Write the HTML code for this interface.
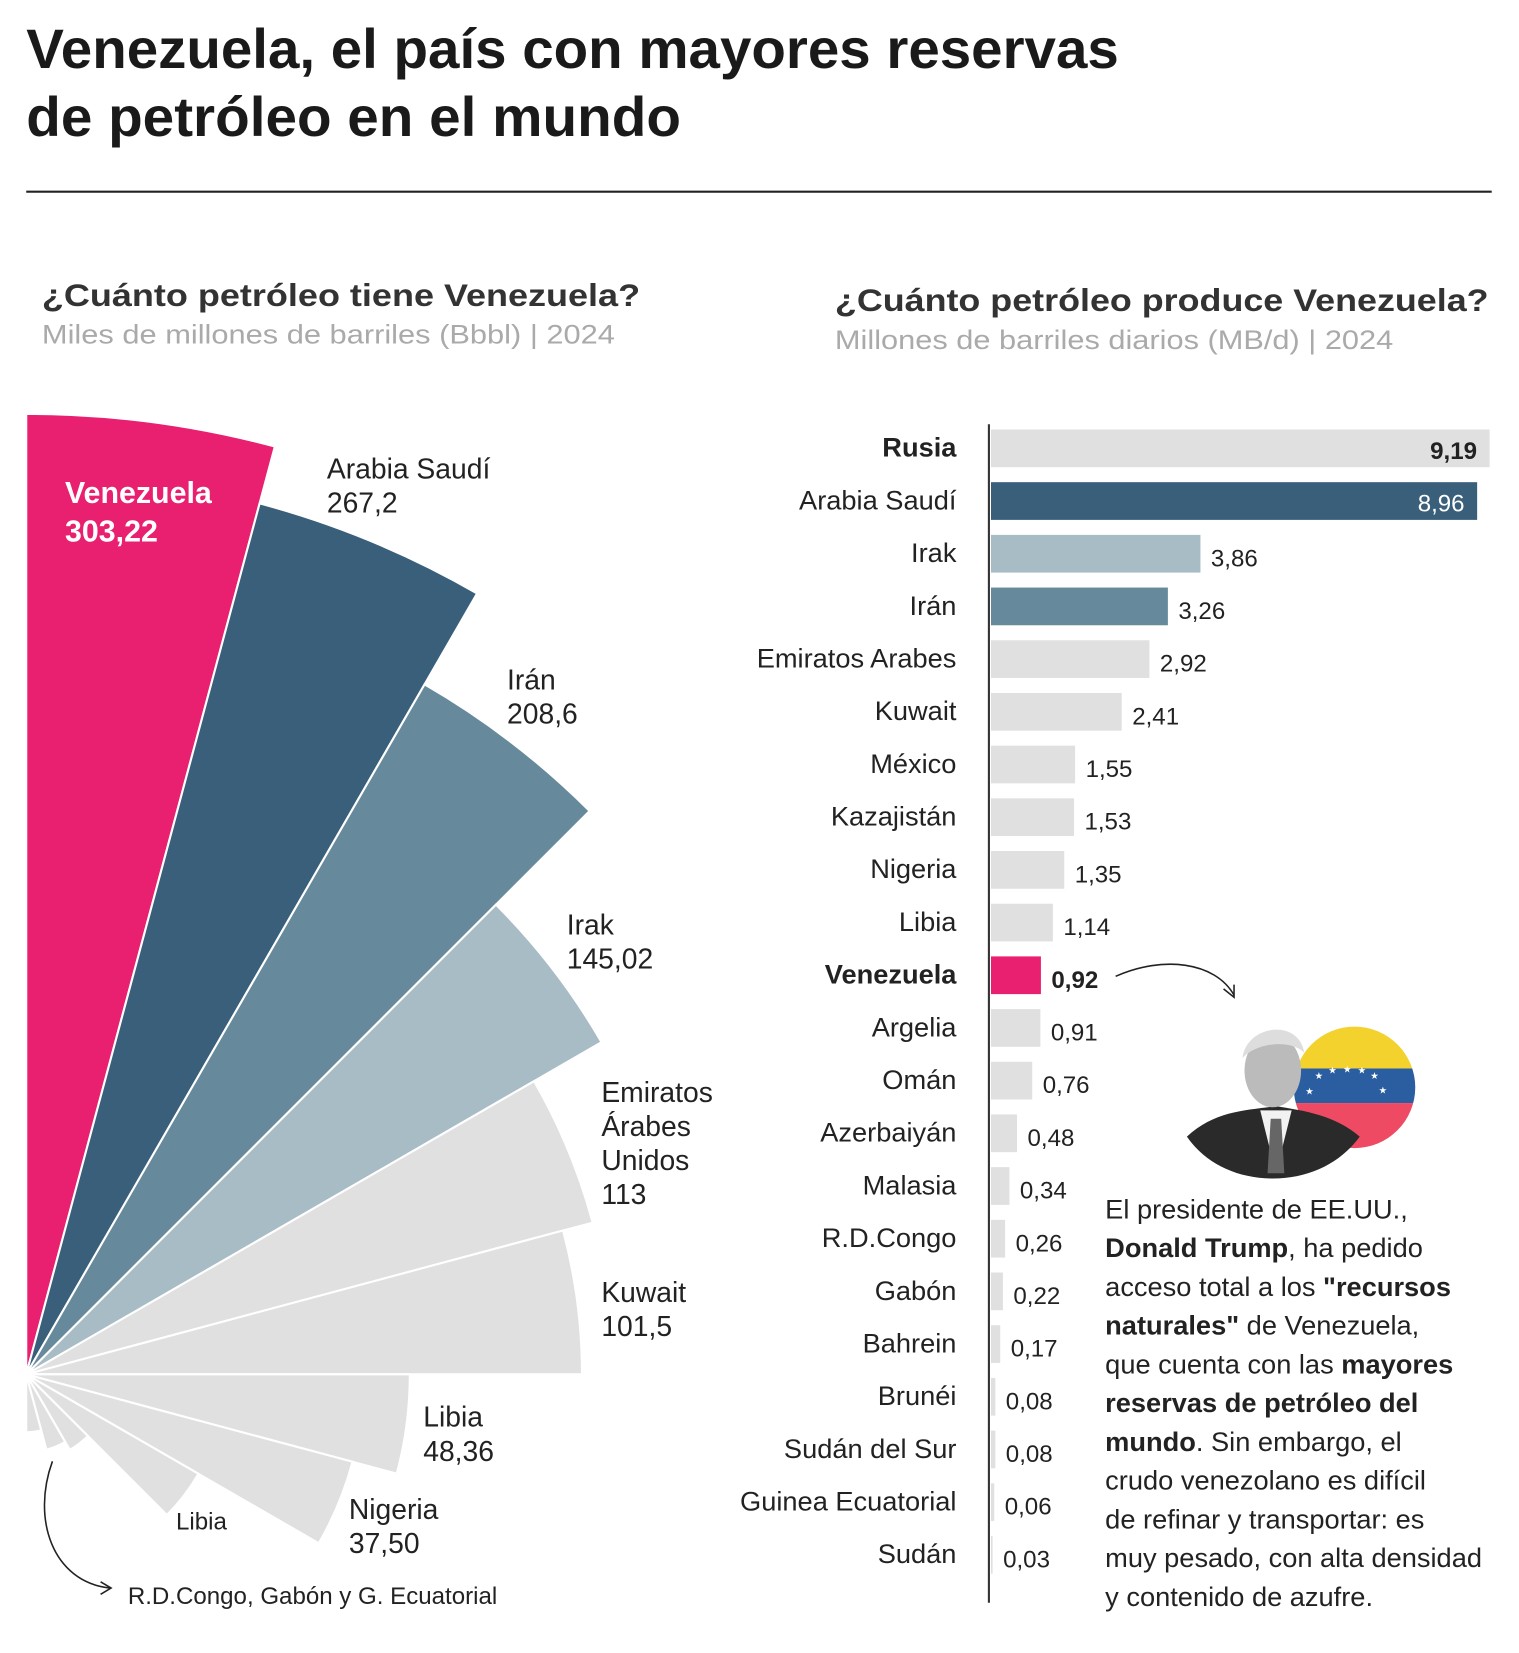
<!DOCTYPE html>
<html><head><meta charset="utf-8"><style>
html,body{margin:0;padding:0;background:#fff;}
svg{display:block;font-family:"Liberation Sans",sans-serif;}
</style></head><body>
<svg id="chart" width="1519" height="1653" viewBox="0 0 1450 1578">
<text x="25" y="65" font-size="53" font-weight="bold" fill="#1a1a1a" textLength="1043" lengthAdjust="spacingAndGlyphs">Venezuela, el país con mayores reservas</text>
<text x="25" y="130" font-size="53" font-weight="bold" fill="#1a1a1a" textLength="625" lengthAdjust="spacingAndGlyphs">de petróleo en el mundo</text>
<line x1="25" y1="183" x2="1424" y2="183" stroke="#222" stroke-width="2"/>
<text x="40" y="292" font-size="30" font-weight="bold" fill="#333" textLength="571" lengthAdjust="spacingAndGlyphs">¿Cuánto petróleo tiene Venezuela?</text>
<text x="40" y="328" font-size="26" fill="#aaa" textLength="547" lengthAdjust="spacingAndGlyphs">Miles de millones de barriles (Bbbl) | 2024</text>
<text x="797" y="297" font-size="30" font-weight="bold" fill="#333" textLength="624" lengthAdjust="spacingAndGlyphs">¿Cuánto petróleo produce Venezuela?</text>
<text x="797" y="333" font-size="26" fill="#aaa" textLength="533" lengthAdjust="spacingAndGlyphs">Millones de barriles diarios (MB/d) | 2024</text>
<g id="polar"></g>
<g id="bars"></g>
<line x1="944" y1="405" x2="944" y2="1530" stroke="#333" stroke-width="2"/>
<path d="M50,1395 C30,1450 50,1510 105,1516" fill="none" stroke="#222" stroke-width="1.5"/>
<path d="M96,1510 L106,1516 L96,1522" fill="none" stroke="#222" stroke-width="1.5"/>
<text x="122" y="1531" font-size="23" fill="#222">R.D.Congo, Gabón y G. Ecuatorial</text>
<path d="M1065,932 C1110,912 1160,918 1178,950" fill="none" stroke="#222" stroke-width="1.5"/>
<path d="M1168,944 L1178,952 L1178,940" fill="none" stroke="#222" stroke-width="1.5"/>
<g>
<clipPath id="fc"><circle cx="1293" cy="1038" r="58"/></clipPath>
<g clip-path="url(#fc)">
<rect x="1230" y="975" width="130" height="45" fill="#f3d22e"/>
<rect x="1230" y="1020" width="130" height="33" fill="#2a5ea1"/>
<rect x="1230" y="1053" width="130" height="50" fill="#ef4a64"/>
</g>
<g fill="#fff" font-size="9"><text x="1246" y="1045">★</text><text x="1255" y="1030">★</text><text x="1268" y="1025">★</text><text x="1282" y="1024">★</text><text x="1296" y="1025">★</text><text x="1308" y="1030">★</text><text x="1316" y="1044">★</text></g>
<path d="M1133,1085 C1160,1060 1190,1060 1218,1056 C1245,1060 1275,1065 1298,1085 C1280,1110 1250,1125 1215,1125 C1180,1125 1150,1110 1133,1085 Z" fill="#2a2a2a"/>
<path d="M1203,1060 L1218,1120 L1233,1060 Z" fill="#f2f2f2"/>
<path d="M1213,1068 L1223,1068 L1226,1120 L1210,1120 Z" fill="#666"/>
<ellipse cx="1215" cy="1022" rx="27" ry="35" fill="#bbb"/>
<path d="M1186,1010 C1190,978 1240,972 1245,1005 C1232,992 1200,995 1186,1010 Z" fill="#ddd"/>
</g>
<g font-size="26" fill="#222">
<text x="1055" y="1163">El presidente de EE.UU.,</text>
<text x="1055" y="1200"><tspan font-weight="bold">Donald Trump</tspan>, ha pedido</text>
<text x="1055" y="1237">acceso total a los <tspan font-weight="bold">"recursos</tspan></text>
<text x="1055" y="1274"><tspan font-weight="bold">naturales"</tspan> de Venezuela,</text>
<text x="1055" y="1311">que cuenta con las <tspan font-weight="bold">mayores</tspan></text>
<text x="1055" y="1348"><tspan font-weight="bold">reservas de petróleo del</tspan></text>
<text x="1055" y="1385"><tspan font-weight="bold">mundo</tspan>. Sin embargo, el</text>
<text x="1055" y="1422">crudo venezolano es difícil</text>
<text x="1055" y="1459">de refinar y transportar: es</text>
<text x="1055" y="1496">muy pesado, con alta densidad</text>
<text x="1055" y="1533">y contenido de azufre.</text>
</g>
</svg>
<script>
const reserveCountries = ["Venezuela","Arabia Saudí","Irán","Irak","Emiratos Árabes Unidos","Kuwait","Libia","Nigeria","Libia","R.D.Congo","Gabón","G. Ecuatorial"];
const reserveValues = [303.22,267.2,208.6,145.02,113,101.5,48.36,37.5,13,2.5,2,1.1];
const reserveColors = ["#e8206f","#3a5f7a","#668a9c","#a8bcc5","#e0e0e0","#e0e0e0","#e0e0e0","#e0e0e0","#e0e0e0","#e0e0e0","#e0e0e0","#e0e0e0"];
const prodCountries = ["Rusia","Arabia Saudí","Irak","Irán","Emiratos Arabes","Kuwait","México","Kazajistán","Nigeria","Libia","Venezuela","Argelia","Omán","Azerbaiyán","Malasia","R.D.Congo","Gabón","Bahrein","Brunéi","Sudán del Sur","Guinea Ecuatorial","Sudán"];
const prodValues = [9.19,8.96,3.86,3.26,2.92,2.41,1.55,1.53,1.35,1.14,0.92,0.91,0.76,0.48,0.34,0.26,0.22,0.17,0.08,0.08,0.06,0.03];
const prodLabels = ["9,19","8,96","3,86","3,26","2,92","2,41","1,55","1,53","1,35","1,14","0,92","0,91","0,76","0,48","0,34","0,26","0,22","0,17","0,08","0,08","0,06","0,03"];
const prodColors = ["#e0e0e0","#3a5f7a","#a8bcc5","#668a9c","#e0e0e0","#e0e0e0","#e0e0e0","#e0e0e0","#e0e0e0","#e0e0e0","#e8206f","#e0e0e0","#e0e0e0","#e0e0e0","#e0e0e0","#e0e0e0","#e0e0e0","#e0e0e0","#e0e0e0","#e0e0e0","#e0e0e0","#e0e0e0"];
const NS="http://www.w3.org/2000/svg";
const cx=25, cy=1312, rMax=917, vMax=Math.max(...reserveValues);
const rScale=v=>rMax*Math.sqrt(v/vMax);
const step=Math.PI/12;
const polar=document.getElementById('polar');
reserveValues.forEach((v,i)=>{
  const a0=i*step, a1=(i+1)*step, r=rScale(v);
  const x0=cx+r*Math.sin(a0), y0=cy-r*Math.cos(a0);
  const x1=cx+r*Math.sin(a1), y1=cy-r*Math.cos(a1);
  const p=document.createElementNS(NS,'path');
  p.setAttribute('d',`M${cx},${cy} L${x0},${y0} A${r},${r} 0 0 1 ${x1},${y1} Z`);
  p.setAttribute('fill',reserveColors[i]);
  p.setAttribute('stroke','#fff');
  p.setAttribute('stroke-width','2');
  
  
  polar.appendChild(p);
});
function addText(g,x,y,s,size,opts){
  const t=document.createElementNS(NS,'text');
  t.setAttribute('x',x);t.setAttribute('y',y);t.setAttribute('font-size',size);
  t.setAttribute('fill',opts.fill||'#222');
  if(opts.bold)t.setAttribute('font-weight','bold');
  if(opts.anchor)t.setAttribute('text-anchor',opts.anchor);
  if(opts.family)t.setAttribute('font-family',opts.family);
  t.textContent=s;g.appendChild(t);return t;
}
const fmt=v=>v.toFixed(2).replace('.',',');
let t;
t=addText(polar,62,480,"Venezuela",29,{fill:"#fff",bold:1});


t=addText(polar,62,517,fmt(reserveValues[0]),29,{fill:"#fff",bold:1});


const lbl=[[312,457,["Arabia Saudí"]],[484,658,["Irán"]],[541,892,["Irak"]],[574,1052,["Emiratos","Árabes","Unidos"]],[574,1243,["Kuwait"]],[404,1362,["Libia"]],[333,1450,["Nigeria"]]];
const vstr=["267,2","208,6","145,02","113","101,5","48,36","37,50"];
lbl.forEach((L,k)=>{
  L[2].forEach((s,j)=>{
    const e=addText(polar,L[0],L[1]+j*32.5,s,27,{});
    
    
  });
  const e=addText(polar,L[0],L[1]+L[2].length*32.5,vstr[k],27,{});
  
  
});
t=addText(polar,168,1460,"Libia",23,{});


const bars=document.getElementById('bars');
const x0=946, unit=476/9.19, y0=428, rowH=50.3, bh=36;
prodValues.forEach((v,i)=>{
  const yc=y0+i*rowH, w=v*unit;
  const r=document.createElementNS(NS,'rect');
  r.setAttribute('x',x0);r.setAttribute('y',yc-bh/2);r.setAttribute('width',Math.max(w,1.5));r.setAttribute('height',bh);
  r.setAttribute('fill',prodColors[i]);
  
  
  bars.appendChild(r);
  const bold=(i===0||i===10);
  const l=addText(bars,913,yc+8,prodCountries[i],26,{anchor:'end',bold:bold});
  
  
  let vt;
  const cond='"Liberation Sans Narrow","Liberation Sans",sans-serif';
  if(i<2) vt=addText(bars,x0+w-12,yc+10,prodLabels[i],23,{anchor:'end',bold:i===0,fill:i===1?'#fff':'#222',family:cond});
  else vt=addText(bars,x0+w+10,yc+12,prodLabels[i],23,{bold:bold,family:cond});
  
  
});
</script>
</body></html>
